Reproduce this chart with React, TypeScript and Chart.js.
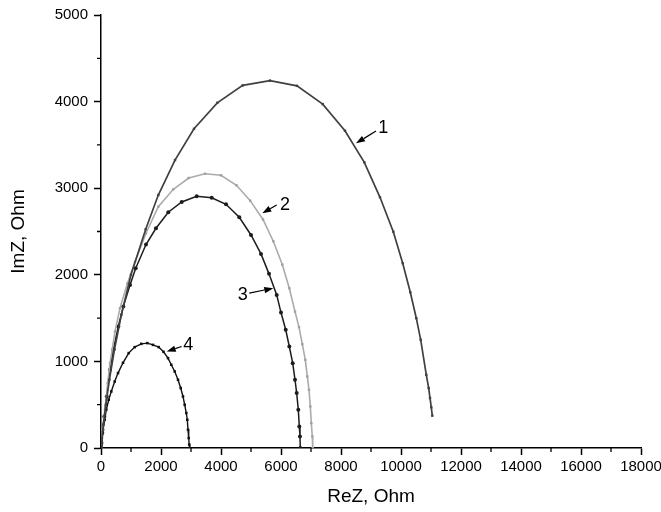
import React, { useEffect, useRef } from "react";
import { Chart, registerables } from "chart.js";

Chart.register(...registerables);

// Curve 1
const x1 = [0, 30, 80, 160, 280, 450, 680, 1000, 1490, 1910, 2467, 3100, 3877, 4723, 5633, 6533, 7390, 8133, 8777, 9300, 9743, 10057, 10310, 10510, 10657, 10843, 10923, 10967, 11010, 11043];
const y1 = [0, 110, 270, 500, 790, 1140, 1540, 2000, 2526, 2921, 3325, 3686, 3986, 4187, 4242, 4182, 3971, 3663, 3299, 2895, 2498, 2134, 1799, 1499, 1249, 845, 692, 577, 470, 373];

// Curve 2
const x2 = [0, 43, 133, 223, 300, 467, 633, 880, 1133, 1500, 1910, 2410, 2923, 3467, 4000, 4517, 4973, 5400, 5743, 6043, 6277, 6467, 6600, 6710, 6810, 6877, 6933, 6977, 7010, 7043, 7057];
const y2 = [0, 211, 442, 750, 980, 1345, 1615, 1900, 2152, 2480, 2787, 2987, 3118, 3167, 3149, 3033, 2856, 2639, 2388, 2118, 1845, 1575, 1396, 1200, 1018, 826, 672, 480, 288, 134, 0];

// Curve 3
const x3 = [0, 43, 110, 190, 300, 410, 577, 743, 967, 1157, 1500, 1833, 2243, 2690, 3190, 3690, 4167, 4610, 5000, 5333, 5600, 5857, 6000, 6157, 6277, 6390, 6467, 6523, 6577, 6610, 6633, 6643];
const y3 = [0, 173, 364, 595, 903, 1134, 1403, 1633, 1883, 2076, 2350, 2537, 2722, 2841, 2907, 2890, 2814, 2664, 2460, 2241, 2011, 1768, 1564, 1365, 1172, 980, 788, 634, 442, 249, 134, 0];

// Curve 4
const x4 = [0, 33, 67, 123, 177, 257, 343, 457, 567, 733, 923, 1123, 1343, 1543, 1733, 1923, 2083, 2233, 2343, 2457, 2567, 2657, 2733, 2790, 2843, 2877, 2900, 2923, 2940, 2960];
const y4 = [0, 58, 211, 326, 442, 557, 653, 768, 865, 984, 1096, 1165, 1203, 1211, 1191, 1165, 1111, 1038, 961, 884, 788, 692, 595, 499, 404, 326, 211, 115, 40, 0];

// Curve labels (data coordinates)
const labelText = ["1", "2", "3", "4"];
const labelX = [9410, 6133, 4723, 2910];
const labelY = [3690, 2808, 1768, 1191];
const arrowFromX = [9167, 5857, 4943, 2690];
const arrowFromY = [3660, 2806, 1788, 1172];
const arrowToX = [8500, 5377, 5743, 2190];
const arrowToY = [3518, 2710, 1845, 1114];

const xMinorTicks = [1000, 3000, 5000, 7000, 9000, 11000, 13000, 15000, 17000];
const yMinorTicks = [500, 1500, 2500, 3500, 4500];

const FONT = '"Liberation Sans", Arial, sans-serif';

const toPts = (xs: number[], ys: number[]) => xs.map((x, i) => ({ x, y: ys[i] }));

const extrasPlugin = {
  id: "extras",
  afterDatasetsDraw(chart: any) {
    const ctx = chart.ctx;
    const xs = chart.scales.x;
    const ys = chart.scales.y;
    ctx.save();
    ctx.fillStyle = "#000";
    ctx.strokeStyle = "#000";
    ctx.lineWidth = 1.2;
    ctx.font = `18px ${FONT}`;
    ctx.textAlign = "center";
    ctx.textBaseline = "middle";
    for (let i = 0; i < labelText.length; i++) {
      ctx.fillText(labelText[i], xs.getPixelForValue(labelX[i]), ys.getPixelForValue(labelY[i]));
      const fx = xs.getPixelForValue(arrowFromX[i]);
      const fy = ys.getPixelForValue(arrowFromY[i]);
      const tx = xs.getPixelForValue(arrowToX[i]);
      const ty = ys.getPixelForValue(arrowToY[i]);
      const ang = Math.atan2(ty - fy, tx - fx);
      const hl = 9;
      const hw = 3.2;
      const bx = tx - hl * Math.cos(ang);
      const by = ty - hl * Math.sin(ang);
      ctx.beginPath();
      ctx.moveTo(fx, fy);
      ctx.lineTo(bx, by);
      ctx.stroke();
      ctx.beginPath();
      ctx.moveTo(tx, ty);
      ctx.lineTo(bx + hw * Math.sin(ang), by - hw * Math.cos(ang));
      ctx.lineTo(bx - hw * Math.sin(ang), by + hw * Math.cos(ang));
      ctx.closePath();
      ctx.fill();
    }
    ctx.restore();
  },
  afterDraw(chart: any) {
    const ctx = chart.ctx;
    const xs = chart.scales.x;
    const ys = chart.scales.y;
    const area = chart.chartArea;
    ctx.save();
    ctx.strokeStyle = "#000";
    ctx.lineWidth = 1.3;
    ctx.beginPath();
    for (const v of xMinorTicks) {
      const px = xs.getPixelForValue(v);
      ctx.moveTo(px, area.bottom);
      ctx.lineTo(px, area.bottom + 4);
    }
    for (const v of yMinorTicks) {
      const py = ys.getPixelForValue(v);
      ctx.moveTo(area.left - 4, py);
      ctx.lineTo(area.left, py);
    }
    ctx.stroke();
    ctx.restore();
  },
};

export default function App() {
  const ref = useRef<HTMLCanvasElement | null>(null);
  useEffect(() => {
    if (!ref.current) return;
    const chart = new Chart(ref.current, {
      type: "scatter",
      data: {
        datasets: [
          {
            data: toPts(x1, y1),
            showLine: true,
            borderColor: "#404040",
            backgroundColor: "#404040",
            borderWidth: 1.7,
            pointStyle: "rect",
            pointRadius: 1.7,
            pointBorderWidth: 0,
          },
          {
            data: toPts(x2, y2),
            showLine: true,
            borderColor: "#ababab",
            backgroundColor: "#a0a0a0",
            borderWidth: 1.6,
            pointStyle: "rect",
            pointRadius: 1.7,
            pointBorderWidth: 0,
          },
          {
            data: toPts(x3, y3),
            showLine: true,
            borderColor: "#1c1c1c",
            backgroundColor: "#1c1c1c",
            borderWidth: 1.5,
            pointStyle: "circle",
            pointRadius: 2,
            pointBorderWidth: 0,
          },
          {
            data: toPts(x4, y4),
            showLine: true,
            borderColor: "#111",
            backgroundColor: "#111",
            borderWidth: 1.4,
            pointStyle: "rect",
            pointRadius: 1.8,
            pointBorderWidth: 0,
          },
        ],
      },
      options: {
        animation: false,
        responsive: true,
        maintainAspectRatio: false,
        layout: { padding: { top: 15, right: 20, left: 0, bottom: 0 } },
        plugins: {
          legend: { display: false },
          tooltip: { enabled: false },
        },
        scales: {
          x: {
            type: "linear",
            min: 0,
            max: 18000,
            border: { color: "#000", width: 1.5 },
            grid: { drawOnChartArea: false, drawTicks: true, tickLength: 7, tickColor: "#000", tickWidth: 1.5 },
            ticks: {
              stepSize: 2000,
              color: "#000",
              font: { family: FONT, size: 15 },
              padding: 3,
              maxRotation: 0,
              autoSkip: false,
              callback: (v: any) => String(v),
            },
            title: { display: true, text: "ReZ, Ohm", color: "#000", font: { family: FONT, size: 19 }, padding: { top: 0, bottom: 4 } },
            afterFit: (s: any) => {
              s.height = 64;
              s.paddingLeft = 0;
              s.paddingRight = 0;
            },
          },
          y: {
            type: "linear",
            min: 0,
            max: 5000,
            border: { color: "#000", width: 1.5 },
            grid: { drawOnChartArea: false, drawTicks: true, tickLength: 7, tickColor: "#000", tickWidth: 1.5 },
            ticks: {
              stepSize: 1000,
              color: "#000",
              font: { family: FONT, size: 15 },
              padding: 6,
              autoSkip: false,
              callback: (v: any) => String(v),
            },
            title: { display: true, text: "ImZ, Ohm", color: "#000", font: { family: FONT, size: 19 }, padding: { top: 7, bottom: 0 } },
            afterFit: (s: any) => {
              s.width = 101;
              s.paddingTop = 0;
              s.paddingBottom = 0;
            },
          },
        },
      },
      plugins: [extrasPlugin],
    });
    return () => chart.destroy();
  }, []);
  return (
    <div style={{ position: "fixed", left: 0, top: 0, width: 661, height: 512, background: "#fff" }}>
      <canvas ref={ref} />
    </div>
  );
}
